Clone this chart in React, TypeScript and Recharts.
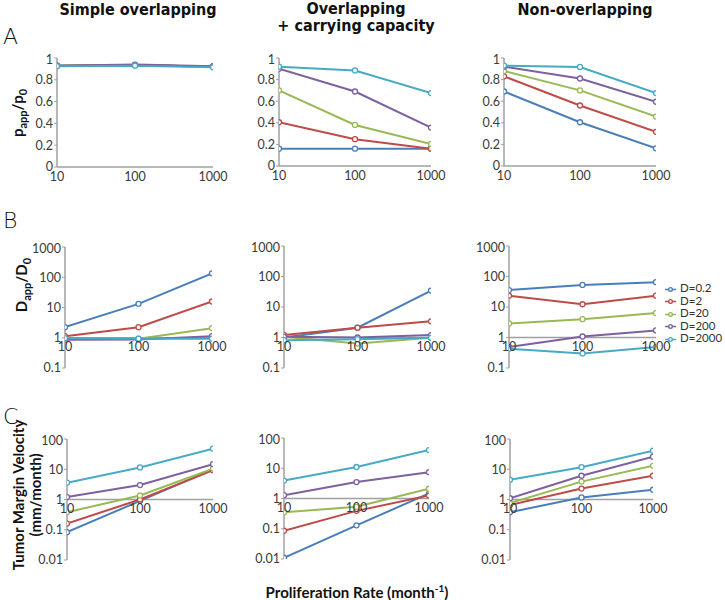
import React from 'react';
import { LineChart, Line, XAxis, YAxis, ReferenceLine, Legend } from 'recharts';

// proliferation rate (month^-1)
const rates = [10, 100, 1000];
const seriesNames = ['D=0.2', 'D=2', 'D=20', 'D=200', 'D=2000'];
const colors = ['#4a7ebb', '#be4b48', '#98b954', '#7d60a0', '#46aac5'];

// p_app / p_0, one row per D
const aSimple = [
  [0.93, 0.935, 0.92],
  [0.93, 0.935, 0.92],
  [0.93, 0.935, 0.92],
  [0.93, 0.94, 0.925],
  [0.925, 0.93, 0.915],
];
const aCarrying = [
  [0.16, 0.16, 0.16],
  [0.405, 0.248, 0.16],
  [0.7, 0.38, 0.204],
  [0.9, 0.69, 0.356],
  [0.92, 0.885, 0.675],
];
const aNonOverlap = [
  [0.69, 0.405, 0.164],
  [0.83, 0.56, 0.316],
  [0.88, 0.7, 0.458],
  [0.92, 0.81, 0.595],
  [0.93, 0.917, 0.675],
];

// D_app / D_0
const bSimple = [
  [2.24, 13.2, 135],
  [1.13, 2.24, 15.8],
  [0.93, 0.93, 2.08],
  [0.86, 0.88, 1.13],
  [0.97, 0.93, 0.93],
];
const bCarrying = [
  [1.0, 2.1, 34.5],
  [1.2, 2.1, 3.4],
  [1.05, 0.63, 0.98],
  [1.05, 1.0, 1.2],
  [0.82, 0.88, 0.98],
];
const bNonOverlap = [
  [36, 53, 65],
  [23.6, 12.3, 23.6],
  [2.9, 4.0, 6.3],
  [0.49, 1.08, 1.7],
  [0.43, 0.3, 0.49],
];

// tumor margin velocity (mm/month)
const cSimple = [
  [0.083, 0.9, 9.8],
  [0.16, 1.0, 9.3],
  [0.38, 1.36, 10.5],
  [1.2, 3.0, 14.8],
  [3.6, 11.5, 48],
];
const cCarrying = [
  [0.011, 0.13, 1.46],
  [0.086, 0.39, 1.25],
  [0.35, 0.53, 2.1],
  [1.29, 3.5, 7.4],
  [3.9, 11, 40],
];
const cNonOverlap = [
  [0.38, 1.17, 2.1],
  [0.66, 2.3, 6.1],
  [0.76, 3.9, 13],
  [1.1, 6.1, 26],
  [4.5, 11.7, 41],
];

const linTicks = [0, 0.2, 0.4, 0.6, 0.8, 1];
const bTicks = [0.1, 1, 10, 100, 1000];
const cTicks = [0.01, 0.1, 1, 10, 100];

const toRows = (series: number[][]) =>
  rates.map((rate, i) => {
    const row: any = { rate };
    series.forEach((s, k) => (row[seriesNames[k]] = s[i]));
    return row;
  });

const Y_W = 45;
const T = 6;
const X_H = 22;
const R = 16;
const tickFont = { fontFamily: 'Lato, "Open Sans", sans-serif', fontSize: 12.5, fill: '#3a3a3a' };
const axisGray = '#a0a0a0';

type PanelProps = {
  x: number;
  y: number;
  w: number;
  h: number;
  series: number[][];
  log?: boolean;
  ticks: number[];
  crossShift?: number;
  legend?: boolean;
};

const Panel = ({ x, y, w, h, series, log, ticks, crossShift = 0, legend }: PanelProps) => {
  const data = toRows(series);
  const width = legend ? 725 - (x - Y_W) : Y_W + w + R;
  const XTick = (p: any) => (
    <text x={p.x} y={p.y - crossShift - 4} textAnchor="middle" dominantBaseline="hanging" {...tickFont}>
      {p.payload.value}
    </text>
  );
  return (
    <div style={{ position: 'absolute', left: x - Y_W, top: y - T }}>
      <LineChart
        width={width}
        height={T + h + X_H}
        data={data}
        margin={{ top: T, right: width - Y_W - w, left: 0, bottom: 0 }}
      >
        <XAxis
          dataKey="rate"
          type="number"
          scale="log"
          domain={[10, 1000]}
          ticks={rates}
          allowDataOverflow
          height={X_H}
          axisLine={log ? false : { stroke: axisGray, strokeWidth: 1.5 }}
          tickLine={false}
          tick={XTick}
        />
        <YAxis
          type="number"
          scale={log ? 'log' : 'linear'}
          domain={[ticks[0], ticks[ticks.length - 1]]}
          ticks={ticks}
          allowDataOverflow
          width={Y_W}
          tickSize={3}
          tickMargin={1}
          axisLine={{ stroke: axisGray, strokeWidth: 1.5 }}
          tickLine={{ stroke: axisGray }}
          tick={tickFont}
          tickFormatter={(v: number) => String(v)}
        />
        {log && <ReferenceLine y={1} stroke={axisGray} strokeWidth={1.5} />}
        {seriesNames.map((n, k) => (
          <Line
            key={n}
            dataKey={n}
            name={n}
            stroke={colors[k]}
            strokeWidth={2}
            dot={{ r: 2.5, fill: '#fff', stroke: colors[k], strokeWidth: 1.3 }}
            isAnimationActive={false}
          />
        ))}
        {legend && (
          <Legend
            layout="vertical"
            align="center"
            verticalAlign="middle"
            iconType="line"
            iconSize={11}
            formatter={(v: string) => <span style={{ color: '#333' }}>{v}</span>}
            wrapperStyle={{
              position: 'absolute',
              left: 665 - (x - Y_W),
              top: 282 - (y - T),
              width: 80,
              height: 'auto',
              fontFamily: 'Lato, "Open Sans", sans-serif',
              fontSize: 11.5,
              lineHeight: '12.5px',
              whiteSpace: 'nowrap',
            }}
          />
        )}
      </LineChart>
    </div>
  );
};

const titleFont = {
  fontFamily: '"Liberation Sans Narrow", "Arial Narrow", "DejaVu Sans Condensed", sans-serif',
  fontWeight: 700,
  fontSize: 16,
  color: '#111',
  position: 'absolute' as const,
  transform: 'translate(-50%, -50%)',
  whiteSpace: 'nowrap' as const,
  lineHeight: '17px',
  textAlign: 'center' as const,
};
const labelFont = {
  fontFamily: 'Lato, "Open Sans", sans-serif',
  fontWeight: 700,
  fontSize: 15,
  color: '#111',
  position: 'absolute' as const,
  whiteSpace: 'nowrap' as const,
  textAlign: 'center' as const,
  lineHeight: '17px',
};
const letterFont = {
  fontFamily: '"DejaVu Sans", sans-serif',
  fontWeight: 300,
  fontSize: 22,
  color: '#111',
  position: 'absolute' as const,
};

export default function App() {
  return (
    <div style={{ position: 'absolute', left: 0, top: 0, width: 725, height: 600, background: '#fff', overflow: 'hidden' }}>
      <div style={{ ...titleFont, left: 138, top: 9 }}>Simple overlapping</div>
      <div style={{ ...titleFont, left: 356, top: 17 }}>
        Overlapping
        <br />+ carrying capacity
      </div>
      <div style={{ ...titleFont, left: 585, top: 9 }}>Non-overlapping</div>

      <div style={{ ...letterFont, left: 3, top: 24 }}>A</div>
      <div style={{ ...letterFont, left: 3, top: 208 }}>B</div>
      <div style={{ ...letterFont, left: 3, top: 404 }}>C</div>

      <div style={{ ...labelFont, left: 20, top: 113, transform: 'translate(-50%, -50%) rotate(-90deg)' }}>
        p<sub style={{ fontSize: 11 }}>app</sub>/p<sub style={{ fontSize: 11 }}>0</sub>
      </div>
      <div style={{ ...labelFont, left: 24, top: 285, transform: 'translate(-50%, -50%) rotate(-90deg)' }}>
        D<sub style={{ fontSize: 11 }}>app</sub>/D<sub style={{ fontSize: 11 }}>0</sub>
      </div>
      <div style={{ ...labelFont, left: 27, top: 495, transform: 'translate(-50%, -50%) rotate(-90deg)' }}>
        Tumor Margin Velocity
        <br />
        (mm/month)
      </div>
      <div style={{ ...labelFont, left: 357, top: 590, transform: 'translate(-50%, -50%)' }}>
        Proliferation Rate (month<sup style={{ fontSize: 10 }}>-1</sup>)
      </div>

      <Panel x={57} y={58} w={156} h={109} series={aSimple} ticks={linTicks} />
      <Panel x={279} y={58} w={152} h={108} series={aCarrying} ticks={linTicks} />
      <Panel x={504} y={58} w={152} h={108} series={aNonOverlap} ticks={linTicks} />

      <Panel x={65} y={247} w={147} h={121} series={bSimple} ticks={bTicks} log crossShift={121 / 4} />
      <Panel x={284} y={246} w={147} h={122} series={bCarrying} ticks={bTicks} log crossShift={122 / 4} />
      <Panel x={509} y={246} w={147} h={122} series={bNonOverlap} ticks={bTicks} log crossShift={122 / 4} legend />

      <Panel x={67} y={439} w={146} h={121} series={cSimple} ticks={cTicks} log crossShift={121 / 2} />
      <Panel x={284} y={438} w={145} h={121} series={cCarrying} ticks={cTicks} log crossShift={121 / 2} />
      <Panel x={510} y={439} w={143} h={121} series={cNonOverlap} ticks={cTicks} log crossShift={121 / 2} />
    </div>
  );
}
